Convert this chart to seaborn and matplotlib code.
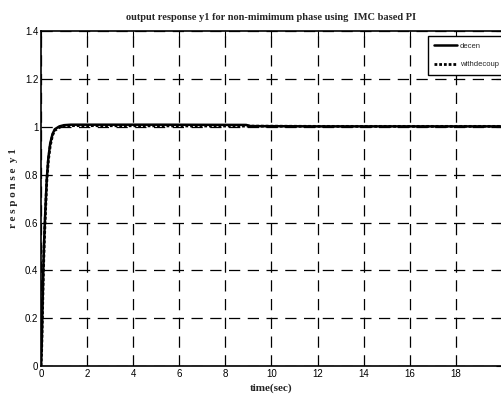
import numpy as np
import pandas as pd
import seaborn as sns
import matplotlib
matplotlib.use("Agg")
import matplotlib.pyplot as plt

# data
time_decen = [0, 0.03, 0.06, 0.1, 0.14, 0.18, 0.25, 0.32, 0.4, 0.5, 0.6, 0.8, 1.0, 1.3, 2, 5, 8.9, 9.1, 12, 20]
y_decen = [0, 0.08, 0.22, 0.4, 0.53, 0.63, 0.78, 0.87, 0.93, 0.97, 0.99, 1.002, 1.007, 1.009, 1.009, 1.009, 1.008, 1.003, 1.002, 1.002]
time_decoup = [0, 0.03, 0.06, 0.1, 0.14, 0.18, 0.25, 0.32, 0.4, 0.5, 0.6, 0.8, 1.0, 1.3, 2, 5, 9, 12, 20]
y_decoup = [0, 0.07, 0.2, 0.38, 0.51, 0.61, 0.77, 0.86, 0.92, 0.965, 0.985, 0.998, 1.003, 1.005, 1.005, 1.004, 1.003, 1.002, 1.002]

title = "output response y1 for non-mimimum phase using  IMC based PI"
xlabel = "time(sec)"
ylabel = "r e s p o n s e  y 1"
xticks = [0, 2, 4, 6, 8, 10, 12, 14, 16, 18]
yticks = [0, 0.2, 0.4, 0.6, 0.8, 1.0, 1.2, 1.4]
ytick_labels = ["0", "0.2", "0.4", "0.6", "0.8", "1", "1.2", "1.4"]

sns.set_theme(style="white")
plt.rcParams['font.family'] = ['Liberation Sans', 'DejaVu Sans']

fig = plt.figure(figsize=(5.01, 4.05), dpi=100)
ax = fig.add_axes([0.0818, 0.0963, 0.9182 + 0.002, 0.8267])

df1 = pd.DataFrame({"t": time_decen, "y": y_decen})
df2 = pd.DataFrame({"t": time_decoup, "y": y_decoup})
sns.lineplot(data=df1, x="t", y="y", ax=ax, color="black", lw=1.8, label="decen")
sns.lineplot(data=df2, x="t", y="y", ax=ax, color="black", lw=2.0, linestyle=(0, (1, 0.7)), label="withdecoup")

ax.set_xlim(0, 20)
ax.set_ylim(0, 1.4)
ax.set_xticks(xticks)
ax.set_xticklabels([str(v) for v in xticks], fontsize=7)
ax.set_yticks(yticks)
ax.set_yticklabels(ytick_labels, fontsize=7)
ax.grid(True, color="black", linestyle=(0, (9, 6)), linewidth=0.9)
ax.tick_params(direction="in", length=4, width=0.8, colors="black", top=True, right=True, pad=2)
for s in ax.spines.values():
    s.set_color("black")
    s.set_linewidth(1.2)

ax.set_title(title, fontsize=7.5, fontweight="bold", family="Liberation Serif", pad=8)
ax.set_xlabel(xlabel, fontsize=8, fontweight="bold", family="Liberation Serif", labelpad=3)
ax.set_ylabel(ylabel, fontsize=8, fontweight="bold", family="Liberation Serif", labelpad=4)
ax.yaxis.set_label_coords(-0.05, 0.53)

leg = ax.legend(loc="upper left", bbox_to_anchor=(0.84, 0.985), fontsize=5.5, frameon=True,
                fancybox=False, edgecolor="black", handlelength=3.0, borderpad=0.8,
                labelspacing=1.5, handletextpad=0.3, borderaxespad=0.0)
leg.get_frame().set_linewidth(1.0)
leg.get_frame().set_alpha(1)

fig.savefig("out.png", dpi=100)
